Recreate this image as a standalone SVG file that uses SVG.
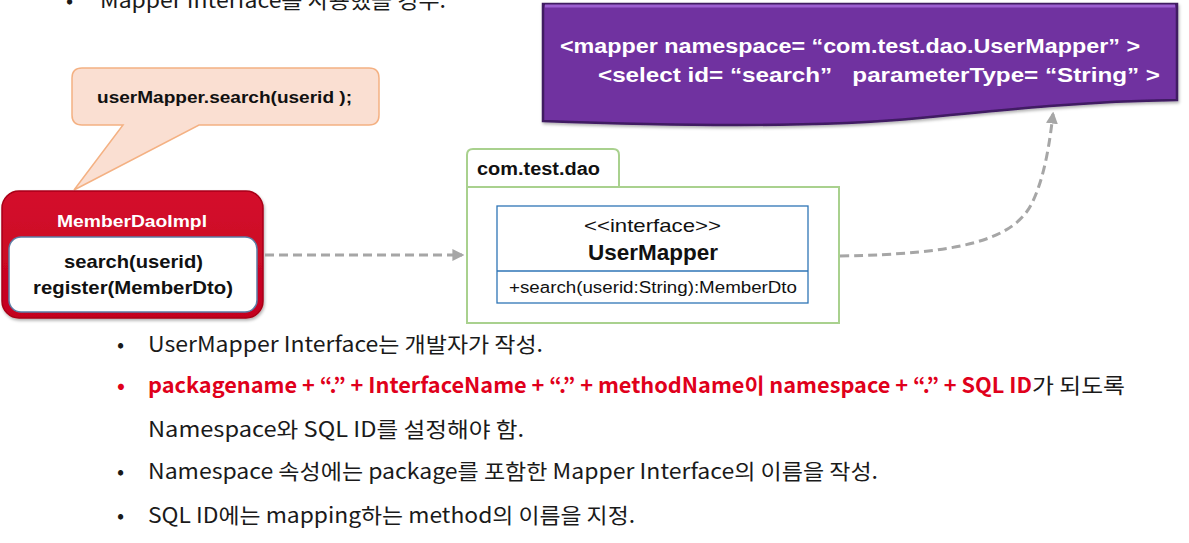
<svg xmlns="http://www.w3.org/2000/svg" width="1189" height="543" viewBox="0 0 1189 543">
<style>
.kr{font-family:"Noto Sans CJK KR","Noto Sans",sans-serif;font-size:21px;fill:#1a1a1a}
.red{fill:#e0001b;font-weight:bold}
.lab{font-family:"Liberation Sans","Noto Sans CJK KR",sans-serif;fill:#111}
.w{fill:#fff}
.conn{fill:none;stroke:#a6a6a6;stroke-width:3;stroke-dasharray:9 5}
</style>
<defs>
<marker id="ah" viewBox="0 0 10 10" refX="8" refY="5" markerWidth="4" markerHeight="4" orient="auto">
<path d="M0,0 L10,5 L0,10 z" fill="#a6a6a6"/>
</marker>
<linearGradient id="redg" x1="0" y1="0" x2="0" y2="1">
<stop offset="0" stop-color="#d4102c"/>
<stop offset="1" stop-color="#c4001f"/>
</linearGradient>
<filter id="sh" x="-10%" y="-10%" width="120%" height="130%">
<feDropShadow dx="1" dy="2" stdDeviation="1.5" flood-color="#000" flood-opacity="0.3"/>
</filter>
</defs>
<rect width="1189" height="543" fill="#fff"/>

<g id="title">
<text class="kr" x="66" y="8" fill="#444">•</text>
<text class="kr" x="100" y="8" textLength="346" lengthAdjust="spacingAndGlyphs">Mapper Interface를 사용했을 경우.</text>
</g>

<g id="callout">
<path d="M82,68 H369 Q379,68 379,78 V115 Q379,125 369,125 H199 L74,190 L123,125 H82 Q72,125 72,115 V78 Q72,68 82,68 Z" fill="#fadfd2" stroke="#f4b183" stroke-width="1.5"/>
<text class="lab" x="97" y="103" font-size="16.5" font-weight="bold" textLength="255" lengthAdjust="spacingAndGlyphs">userMapper.search(userid );</text>
</g>

<g id="mapperxml">
<path d="M543,4 H1177 V100 C1090,101 1010,109 920,118 C820,128 680,126 543,121 Z" fill="#7030a0" stroke="#3f1a62" stroke-width="2.5" filter="url(#sh)"/>
<path d="M545,6 H1175" stroke="#9b5fd0" stroke-width="3"/>
<text class="lab w" x="560" y="53" font-size="20" font-weight="bold" textLength="580" lengthAdjust="spacingAndGlyphs">&lt;mapper namespace= “com.test.dao.UserMapper” &gt;</text>
<text class="lab w" x="598" y="82" font-size="20" font-weight="bold" textLength="562" lengthAdjust="spacingAndGlyphs">&lt;select id= “search”&#160;&#160; parameterType= “String” &gt;</text>
</g>

<g id="memberdaoimpl">
<rect x="2" y="191" width="261" height="127" rx="17" fill="url(#redg)" stroke="#a80018" stroke-width="1.5" filter="url(#sh)"/>
<text class="lab w" x="57" y="227" font-size="17" font-weight="bold" textLength="150" lengthAdjust="spacingAndGlyphs">MemberDaoImpl</text>
<rect x="9" y="237" width="248" height="75" rx="12" fill="#fff" stroke="#5b7ea6" stroke-width="1.5"/>
<text class="lab" x="64" y="268" font-size="19" font-weight="bold" textLength="139" lengthAdjust="spacingAndGlyphs">search(userid)</text>
<text class="lab" x="33" y="294" font-size="19" font-weight="bold" textLength="200" lengthAdjust="spacingAndGlyphs">register(MemberDto)</text>
</g>

<g id="package">
<path d="M467,187 V155 Q467,149 473,149 H613 Q619,149 619,155 V187" fill="#fff" stroke="#a9d18e" stroke-width="2"/>
<rect x="467" y="187" width="372" height="136" fill="#fff" stroke="#a9d18e" stroke-width="2"/>
<text class="lab" x="477" y="175" font-size="18" font-weight="bold" textLength="123" lengthAdjust="spacingAndGlyphs">com.test.dao</text>
</g>

<g id="usermapper">
<rect x="497" y="206" width="311" height="97" fill="#fff" stroke="#2e75b6" stroke-width="1.3"/>
<line x1="497" y1="271" x2="808" y2="271" stroke="#2e75b6" stroke-width="1.3"/>
<text class="lab" x="584" y="232" font-size="19" textLength="137" lengthAdjust="spacingAndGlyphs">&lt;&lt;interface&gt;&gt;</text>
<text class="lab" x="588" y="260" font-size="22" font-weight="bold" textLength="130" lengthAdjust="spacingAndGlyphs">UserMapper</text>
<text class="lab" x="509" y="293" font-size="16" textLength="288" lengthAdjust="spacingAndGlyphs">+search(userid:String):MemberDto</text>
</g>

<g id="connectors">
<path class="conn" d="M265,255 H462" marker-end="url(#ah)"/>
<path class="conn" d="M840,256 C960,254 1012,240 1031,205 C1045,178 1050,140 1053,114" marker-end="url(#ah)"/>
</g>

<g id="bullets">
<text class="kr" x="117" y="352">•</text>
<text class="kr" x="148" y="352" textLength="395" lengthAdjust="spacingAndGlyphs">UserMapper Interface는 개발자가 작성.</text>
<text class="kr red" x="117" y="393">•</text>
<text class="kr red" x="148" y="393" textLength="884" lengthAdjust="spacingAndGlyphs">packagename + “.” + InterfaceName + “.” + methodName이 namespace + “.” + SQL ID</text>
<text class="kr" x="1032" y="393" textLength="93" lengthAdjust="spacingAndGlyphs">가 되도록</text>
<text class="kr" x="148" y="437" textLength="376" lengthAdjust="spacingAndGlyphs">Namespace와 SQL ID를 설정해야 함.</text>
<text class="kr" x="117" y="479">•</text>
<text class="kr" x="148" y="479" textLength="730" lengthAdjust="spacingAndGlyphs">Namespace 속성에는 package를 포함한 Mapper Interface의 이름을 작성.</text>
<text class="kr" x="117" y="523">•</text>
<text class="kr" x="148" y="523" textLength="487" lengthAdjust="spacingAndGlyphs">SQL ID에는 mapping하는 method의 이름을 지정.</text>
</g>
</svg>
